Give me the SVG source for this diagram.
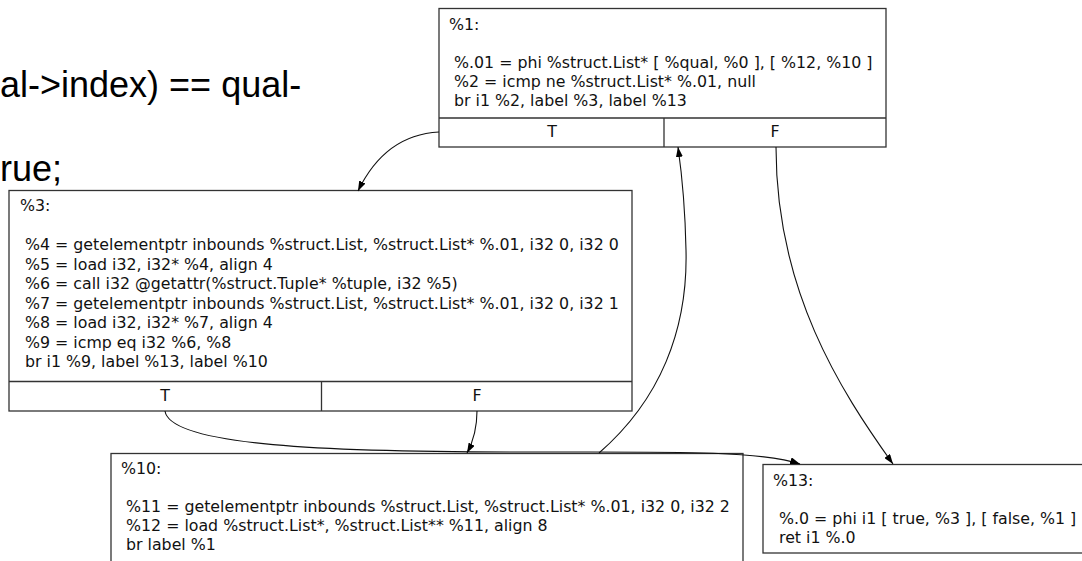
<svg xmlns="http://www.w3.org/2000/svg" width="1082" height="561" viewBox="0 0 1082 561">
  <defs>
    <style>
      .slide { font-family: "Liberation Sans", Arial, sans-serif; font-size: 36px; fill: #000; }
      .box { fill: #fff; stroke: #333; stroke-width: 1.3; }
      .sep { fill: none; stroke: #333; stroke-width: 1.3; }
      .t { font-family: "DejaVu Sans", Verdana, sans-serif; font-size: 15.8px; fill: #111; }
      .port { text-anchor: middle; }
      .edge { fill: none; stroke: #111; stroke-width: 1.1; marker-end: url(#arr); }
    </style>
    <marker id="arr" viewBox="0 0 10 7" refX="10" refY="3.5" markerWidth="10" markerHeight="7" markerUnits="userSpaceOnUse" orient="auto">
      <path d="M0,0 L10,3.5 L0,7 Z" fill="#000"/>
    </marker>
  </defs>
  <rect width="1082" height="561" fill="#fff"/>

  <g id="slide-text">
    <text class="slide" x="0" y="97">al-&gt;index) == qual-</text>
    <text class="slide" x="0" y="181">rue;</text>
  </g>

  <g id="node-1">
    <rect class="box" x="439" y="8.5" width="447" height="138.5"/>
    <path class="sep" d="M439,118 H886 M664,118 V147"/>
    <text class="t" x="449" y="30">%1:</text>
    <text class="t" x="454" y="68">%.01 = phi %struct.List* [ %qual, %0 ], [ %12, %10 ]</text>
    <text class="t" x="454" y="87">%2 = icmp ne %struct.List* %.01, null</text>
    <text class="t" x="454" y="106">br i1 %2, label %3, label %13</text>
    <text class="t port" x="552" y="137">T</text>
    <text class="t port" x="775" y="137">F</text>
  </g>

  <g id="node-3">
    <rect class="box" x="9" y="190.5" width="623" height="220.5"/>
    <path class="sep" d="M9,381.5 H632 M321.5,381.5 V411"/>
    <text class="t" x="20" y="211">%3:</text>
    <text class="t" x="25" y="250">%4 = getelementptr inbounds %struct.List, %struct.List* %.01, i32 0, i32 0</text>
    <text class="t" x="25" y="269.5">%5 = load i32, i32* %4, align 4</text>
    <text class="t" x="25" y="289">%6 = call i32 @getattr(%struct.Tuple* %tuple, i32 %5)</text>
    <text class="t" x="25" y="308.5">%7 = getelementptr inbounds %struct.List, %struct.List* %.01, i32 0, i32 1</text>
    <text class="t" x="25" y="328">%8 = load i32, i32* %7, align 4</text>
    <text class="t" x="25" y="347.5">%9 = icmp eq i32 %6, %8</text>
    <text class="t" x="25" y="367">br i1 %9, label %13, label %10</text>
    <text class="t port" x="165" y="401">T</text>
    <text class="t port" x="477" y="401">F</text>
  </g>

  <g id="node-10">
    <rect class="box" x="111" y="453.5" width="632" height="120"/>
    <text class="t" x="121" y="474">%10:</text>
    <text class="t" x="126" y="512">%11 = getelementptr inbounds %struct.List, %struct.List* %.01, i32 0, i32 2</text>
    <text class="t" x="126" y="531">%12 = load %struct.List*, %struct.List** %11, align 8</text>
    <text class="t" x="126" y="550">br label %1</text>
  </g>

  <g id="node-13">
    <rect class="box" x="763" y="464.5" width="330" height="88.5"/>
    <text class="t" x="773" y="486">%13:</text>
    <text class="t" x="779" y="524">%.0 = phi i1 [ true, %3 ], [ false, %1 ]</text>
    <text class="t" x="779" y="543">ret i1 %.0</text>
  </g>

  <g id="connectors">
    <path class="edge" d="M439,132 C400,134 374,158 358,191"/>
    <path class="edge" d="M776,147 C776,290 840,390 893,464"/>
    <path class="edge" d="M165,411 C170,446 330,452 520,452 C660,452 760,450 800,464"/>
    <path class="edge" d="M477,411 C477,428 474,440 467,453"/>
    <path class="edge" d="M599,453 C660,400 688,330 686,250 C685,200 682,175 678,147"/>
  </g>
</svg>
